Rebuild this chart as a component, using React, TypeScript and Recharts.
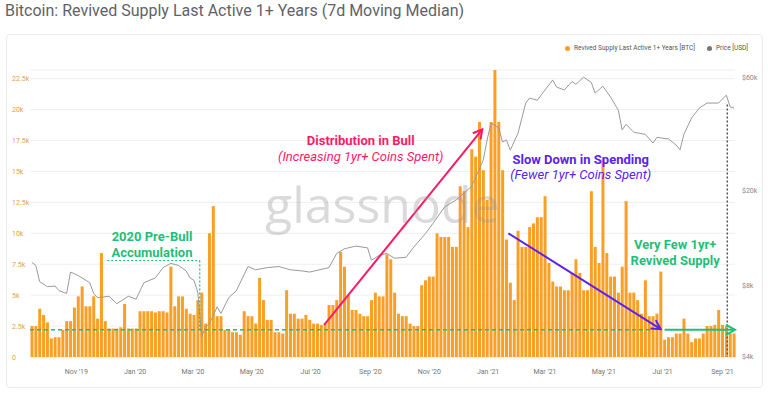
import { ComposedChart, Bar, Line, XAxis, YAxis, CartesianGrid, ReferenceLine, ReferenceDot } from 'recharts';

// day 0 = 14 Sep 2019, one bar every 4 days (7d moving median), in thousands of BTC
const supplyK = [
  2.5, 2.5, 3.9, 3.4, 2.8, 1.5, 1.6, 1.6, 2.2, 2.9, 2.9, 4.0, 4.9, 5.7, 4.1, 4.1, 4.9, 3.1, 8.4, 2.9,
  2.3, 2.3, 2.3, 2.4, 4.3, 2.3, 2.3, 2.3, 3.7, 3.7, 3.7, 3.7, 3.6, 3.7, 3.7, 3.6, 7.3, 4.1, 4.9, 4.9,
  3.9, 3.5, 3.4, 4.6, 5.2, 2.7, 10.0, 12.2, 3.3, 3.3, 2.2, 2.2, 2.0, 2.0, 1.8, 3.7, 3.3, 3.3, 2.7, 6.4,
  4.6, 3.0, 3.0, 2.0, 2.0, 1.9, 5.4, 3.5, 3.5, 3.1, 3.1, 3.4, 3.0, 2.7, 2.7, 2.6, 2.7, 4.2, 4.2, 4.6,
  8.5, 7.3, 5.0, 3.8, 3.8, 3.5, 3.3, 3.3, 4.6, 5.2, 4.9, 4.9, 8.3, 7.9, 5.2, 3.5, 3.3, 3.3, 2.7, 2.5,
  2.5, 5.8, 6.2, 6.5, 6.5, 10.0, 9.7, 9.7, 9.7, 8.9, 8.9, 13.8, 13.4, 10.5, 16.8, 16.2, 19.0, 15.1, 12.7, 19.0,
  23.2, 19.0, 15.1, 9.5, 6.0, 4.6, 10.2, 8.9, 8.9, 10.5, 10.8, 11.3, 11.3, 13.0, 7.6, 6.1, 5.7, 5.7, 5.4, 5.4,
  6.8, 7.9, 6.8, 5.4, 5.4, 13.4, 8.9, 7.6, 16.0, 8.4, 6.5, 6.5, 5.2, 7.3, 12.6, 5.2, 5.2, 4.6, 3.5, 6.2,
  3.3, 3.3, 3.5, 6.9, 1.4, 1.6, 1.6, 1.9, 1.9, 3.1, 1.9, 1.2, 1.5, 1.5, 1.9, 2.5, 2.5, 2.6, 3.8, 2.6,
  2.5, 1.9, 1.9,
];

// price samples on the same 4-day grid (day numbers as above)
const priceDays = [
  2, 6, 10, 18, 26, 30, 38, 42, 50, 58, 62, 66, 70, 82, 90, 102, 110, 118, 130, 138,
  146, 154, 162, 166, 170, 174, 178, 182, 186, 194, 198, 206, 214, 226, 234, 246, 258, 270, 282, 290,
  310, 318, 326, 338, 350, 354, 362, 370, 378, 390, 398, 410, 418, 430, 442, 450, 458, 470, 474, 478,
  486, 490, 494, 498, 506, 514, 518, 526, 534, 542, 546, 554, 562, 566, 574, 582, 586, 594, 602, 610,
  614, 618, 626, 638, 646, 650, 662, 670, 674, 678, 686, 694, 702, 714, 722, 726, 730,
];
const priceUsd = [
  10000, 9700, 8300, 7900, 7950, 7600, 7400, 9100, 8800, 8400, 8200, 7400, 7100, 7200, 6700, 7200, 7000, 8200, 8600, 9500,
  9900, 9700, 9200, 8600, 8400, 7500, 4850, 5350, 5500, 6500, 6100, 7100, 7600, 9600, 9300, 9500, 9600, 9300, 9200, 9100,
  9500, 10900, 11400, 11700, 11500, 10200, 10700, 10900, 10400, 10500, 11600, 13200, 14600, 17100, 18300, 19500, 20900, 26900, 32700, 38500,
  36700, 32000, 32700, 29600, 34900, 46700, 49000, 48000, 53000, 58400, 54500, 53000, 57500, 56000, 60000, 57000, 51400, 55000, 49500, 43600,
  36000, 38000, 35200, 34500, 31700, 33500, 33000, 31100, 29700, 34500, 40400, 44500, 46700, 46700, 50400, 45000, 44500,
];

const monthDays = [48, 109, 169, 230, 291, 353, 414, 475, 534, 595, 656, 718];
const monthLabels = ["Nov '19", "Jan '20", "Mar '20", "May '20", "Jul '20", "Sep '20", "Nov '20", "Jan '21", "Mar '21", "May '21", "Jul '21", "Sep '21"];
const supplyTicks = [0, 2500, 5000, 7500, 10000, 12500, 15000, 17500, 20000, 22500];
const priceTicks = [4000, 8000, 20000, 60000];

const data = supplyK.map((v, i) => {
  const t = i * 4 + 2;
  const p = priceDays.indexOf(t);
  return { t, supply: v * 1000, price: p >= 0 ? priceUsd[p] : null };
});

const ORANGE = '#fa9f26';
const GREEN = '#1fbf78';
const PINK = '#fb1a68';
const PURPLE = '#5b22f0';
const FONT = 'Roboto, sans-serif';

const kFmt = (v: number) => (v === 0 ? '0' : `${v / 1000}k`);

const arrow = (color: string, width = 2) => (props: any) => {
  const { x1, y1, x2, y2 } = props;
  const a = Math.atan2(y2 - y1, x2 - x1);
  const len = 9;
  const half = 5;
  const bx = x2 - len * Math.cos(a);
  const by = y2 - len * Math.sin(a);
  const px = half * Math.sin(a);
  const py = half * Math.cos(a);
  return (
    <g>
      <line x1={x1} y1={y1} x2={x2} y2={y2} stroke={color} strokeWidth={width} />
      <polyline
        points={`${bx - px},${by + py} ${x2},${y2} ${bx + px},${by - py}`}
        fill="none"
        stroke={color}
        strokeWidth={width}
      />
    </g>
  );
};

const note = (lines: string[], color: string, italicSecond: boolean, gap = 16) => (props: any) => (
  <text x={props.cx} y={props.cy} textAnchor="middle" fill={color} fontFamily={FONT} fontSize={13}>
    {lines.map((l, i) => (
      <tspan
        key={i}
        x={props.cx}
        dy={i === 0 ? 0 : gap}
        fontWeight={italicSecond && i > 0 ? 400 : 700}
        fontStyle={italicSecond && i > 0 ? 'italic' : 'normal'}
      >
        {l}
      </tspan>
    ))}
  </text>
);

export default function App() {
  return (
    <div style={{ position: 'absolute', left: 0, top: 0, width: 768, height: 395, background: '#fff', fontFamily: FONT }}>
      <div style={{ position: 'absolute', left: 5, top: 1, fontSize: 16, color: '#5f6368', whiteSpace: 'nowrap' }}>
        Bitcoin: Revived Supply Last Active 1+ Years (7d Moving Median)
      </div>
      <div style={{ position: 'absolute', left: 6, top: 34, width: 755, height: 352, border: '1px solid #ececec', borderRadius: 4 }} />
      <div style={{ position: 'absolute', right: 20, top: 44, fontSize: 6.5, color: '#555', display: 'flex', alignItems: 'center', gap: 4, whiteSpace: 'nowrap' }}>
        <span style={{ width: 5, height: 5, borderRadius: 3, background: ORANGE, display: 'inline-block' }} />
        <span>Revived Supply Last Active 1+ Years [BTC]</span>
        <span style={{ width: 5, height: 5, borderRadius: 3, background: '#777', display: 'inline-block', marginLeft: 8 }} />
        <span>Price [USD]</span>
      </div>
      <div style={{ position: 'absolute', left: 0, top: 0 }}>
        <ComposedChart
          width={768}
          height={395}
          data={data}
          barCategoryGap={0.5}
          margin={{ top: 70, right: 5, bottom: 18, left: 8 }}
        >
          <CartesianGrid vertical={false} stroke="#efefef" yAxisId="left" />
          <XAxis
            dataKey="t"
            type="number"
            domain={[0, 731]}
            ticks={monthDays}
            tickFormatter={(v: number) => monthLabels[monthDays.indexOf(v)]}
            axisLine={false}
            tickLine={false}
            tickMargin={6}
            height={20}
            tick={{ fontSize: 7, fill: '#777' }}
          />
          <YAxis
            yAxisId="left"
            domain={[0, 23200]}
            ticks={supplyTicks}
            width={22}
            axisLine={false}
            tickLine={false}
            tick={(p: any) => (
              <text x={12} y={p.y} dy={2.5} fontSize={7} fill="#e0a050" textAnchor="start">
                {kFmt(p.payload.value)}
              </text>
            )}
          />
          <YAxis
            yAxisId="right"
            orientation="right"
            scale="log"
            domain={[4000, 64300]}
            ticks={priceTicks}
            width={28}
            axisLine={false}
            tickLine={false}
            tickMargin={1}
            tickFormatter={(v: number) => `$${v / 1000}k`}
            tick={{ fontSize: 7, fill: '#888' }}
            allowDataOverflow
          />
          <Bar yAxisId="left" dataKey="supply" fill={ORANGE} isAnimationActive={false} />
          <Line
            yAxisId="right"
            dataKey="price"
            stroke="#9a9a9a"
            strokeWidth={1}
            dot={false}
            connectNulls
            isAnimationActive={false}
          />
          <ReferenceLine
            yAxisId="right"
            segment={[{ x: 723, y: 46000 }, { x: 723, y: 4000 }]}
            stroke="#555"
            strokeWidth={1.5}
            strokeDasharray="2 2"
          />
          <ReferenceLine
            yAxisId="left"
            segment={[{ x: 0, y: 2200 }, { x: 646, y: 2200 }]}
            stroke={GREEN}
            strokeWidth={1.5}
            strokeDasharray="4 3"
          />
          <ReferenceLine
            yAxisId="left"
            segment={[{ x: 80, y: 7800 }, { x: 176, y: 7800 }]}
            stroke={GREEN}
            strokeWidth={1.2}
            strokeDasharray="2 2"
          />
          <ReferenceLine
            yAxisId="left"
            segment={[{ x: 176, y: 7800 }, { x: 176, y: 2200 }]}
            stroke={GREEN}
            strokeWidth={1.2}
            strokeDasharray="2 2"
          />
          <ReferenceLine
            yAxisId="left"
            segment={[{ x: 658, y: 2200 }, { x: 731, y: 2200 }]}
            shape={arrow(GREEN, 2)}
          />
          <ReferenceLine
            yAxisId="left"
            segment={[{ x: 305, y: 2600 }, { x: 469, y: 18400 }]}
            shape={arrow(PINK, 2)}
          />
          <ReferenceLine
            yAxisId="left"
            segment={[{ x: 496, y: 10000 }, { x: 654, y: 2250 }]}
            shape={arrow(PURPLE, 2)}
          />
          <ReferenceDot yAxisId="left" x={126.5} y={9340} shape={note(['2020 Pre-Bull', 'Accumulation'], GREEN, false)} />
          <ReferenceDot
            yAxisId="left"
            x={343}
            y={17110}
            shape={note(['Distribution in Bull', '(Increasing 1yr+ Coins Spent)'], PINK, true)}
          />
          <ReferenceDot
            yAxisId="left"
            x={571}
            y={15570}
            shape={note(['Slow Down in Spending', '(Fewer 1yr+ Coins Spent)'], PURPLE, true, 15)}
          />
          <ReferenceDot yAxisId="left" x={669} y={8700} shape={note(['Very Few 1yr+', 'Revived Supply'], GREEN, false)} />
        </ComposedChart>
      </div>
      <svg width={768} height={395} style={{ position: 'absolute', left: 0, top: 0, pointerEvents: 'none' }}>
        <text x={265} y={223} fontFamily="'Open Sans', sans-serif" fontSize={50} fill="rgba(150,150,150,0.35)">
          glassnode
        </text>
      </svg>
    </div>
  );
}
